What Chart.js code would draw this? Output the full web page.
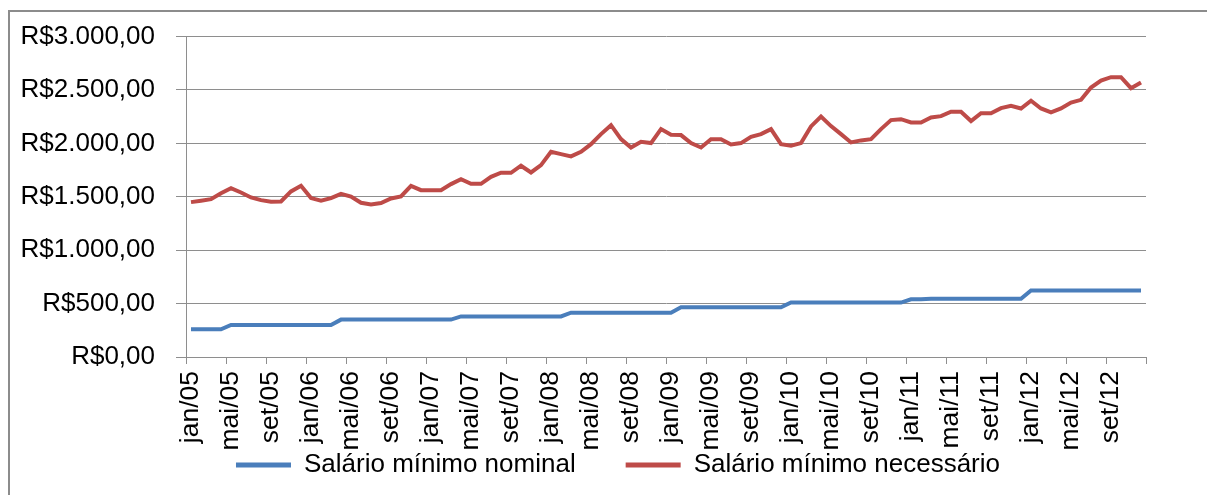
<!DOCTYPE html>
<html>
<head>
<meta charset="utf-8">
<script src="https://cdn.jsdelivr.net/npm/chart.js@4"></script>
<style>
  html, body { margin: 0; padding: 0; background: #ffffff; }
  #wrap { position: relative; width: 1207px; height: 495px; }
  #frame { position: absolute; left: 8px; top: 10px; width: 1300px; height: 600px;
           border-left: 2px solid #8c8c8c; border-top: 2px solid #8c8c8c; }
  canvas { position: absolute; left: 0; top: 0; }
</style>
</head>
<body>
<div id="wrap">
  <div id="frame"></div>
  <canvas id="c" width="1207" height="495"></canvas>
</div>
<script>
const months = ['jan','fev','mar','abr','mai','jun','jul','ago','set','out','nov','dez'];
const years = ['05','06','07','08','09','10','11','12'];
const categories = [];
years.forEach(y => months.forEach(m => categories.push(m + '/' + y)));

const seriesNames = ['Salário mínimo nominal', 'Salário mínimo necessário'];

const nominal = [
  260,260,260,260,300,300,300,300,300,300,300,300,
  300,300,300,350,350,350,350,350,350,350,350,350,
  350,350,350,380,380,380,380,380,380,380,380,380,
  380,380,415,415,415,415,415,415,415,415,415,415,
  415,465,465,465,465,465,465,465,465,465,465,465,
  510,510,510,510,510,510,510,510,510,510,510,510,
  540,540,545,545,545,545,545,545,545,545,545,545,
  622,622,622,622,622,622,622,622,622,622,622,622
];

const necessario = [
  1450,1463,1478,1534,1581,1540,1494,1469,1453,1456,1550,1603,
  1488,1463,1488,1528,1503,1444,1428,1441,1484,1503,1603,1562,
  1562,1562,1619,1665,1622,1622,1687,1725,1725,1791,1728,1797,
  1921,1900,1878,1921,1993,2087,2171,2040,1962,2015,2003,2134,
  2081,2078,2003,1962,2040,2040,1990,2003,2062,2087,2134,1993,
  1978,2003,2159,2252,2162,2087,2009,2028,2040,2134,2218,2227,
  2196,2196,2243,2255,2296,2296,2209,2283,2283,2330,2352,2327,
  2399,2327,2290,2327,2383,2408,2523,2589,2620,2620,2517,2570
];

const yTicks = [0, 500, 1000, 1500, 2000, 2500, 3000];

const colors = ['#4a7ebb', '#be4b48'];
const axisGray = '#8e8e8e';
const FONT = 'Liberation Sans, Arial, sans-serif';

function fmtBRL(v) {
  const s = Math.round(v).toString().replace(/\B(?=(\d{3})+(?!\d))/g, '.');
  return 'R$' + s + ',00';
}

Chart.defaults.font.family = FONT;
Chart.defaults.color = '#000000';

new Chart(document.getElementById('c'), {
  type: 'line',
  data: {
    labels: categories,
    datasets: [
      { label: seriesNames[0], data: nominal, borderColor: colors[0], backgroundColor: colors[0],
        borderWidth: 4, pointRadius: 0, tension: 0, yAxisID: 'y' },
      { label: seriesNames[1], data: necessario, borderColor: colors[1], backgroundColor: colors[1],
        borderWidth: 4, pointRadius: 0, tension: 0, yAxisID: 'y' }
    ]
  },
  options: {
    responsive: false,
    animation: false,
    layout: { padding: { left: 29, right: 0, top: 33, bottom: 7 } },
    plugins: {
      tooltip: { enabled: false },
      legend: {
        position: 'bottom',
        labels: {
          boxWidth: 55,
          boxHeight: 5,
          padding: 50,
          font: { size: 26, family: FONT },
          color: '#000000',
          generateLabels(chart) {
            return chart.data.datasets.map((d, i) => ({
              text: d.label, fillStyle: d.borderColor, strokeStyle: d.borderColor,
              lineWidth: 0, hidden: false, datasetIndex: i, fontColor: '#000000'
            }));
          }
        }
      }
    },
    scales: {
      x: {
        type: 'category',
        offset: true,
        afterFit(s) {
          s.height = 45;
          // let the rotated labels run below the (short) axis box, over the legend margin
          s._computeLabelArea = () => undefined;
        },
        grid: {
          offset: true,
          drawOnChartArea: false,
          drawTicks: true,
          tickLength: 7,
          tickColor: ctx => (ctx.index === undefined || ctx.index % 4 === 0) ? axisGray : 'rgba(0,0,0,0)',
          color: axisGray
        },
        border: { display: true, color: axisGray, width: 1 },
        ticks: {
          autoSkip: false,
          minRotation: 90,
          maxRotation: 90,
          padding: 7,
          font: { size: 26.5, family: FONT },
          color: '#000000',
          callback: function (v, i) { return i % 4 === 0 ? this.getLabelForValue(v) : ''; }
        }
      },
      y: {
        type: 'linear',
        position: 'left',
        min: yTicks[0],
        max: yTicks[yTicks.length - 1],
        afterFit(s) {
          s.width = 157;
          s._computeLabelArea = () => undefined;
        },
        afterBuildTicks(s) { s.ticks = yTicks.map(v => ({ value: v })); },
        grid: { color: axisGray, lineWidth: 1, drawTicks: true, tickLength: 10, tickColor: axisGray },
        border: { display: true, color: axisGray, width: 1 },
        ticks: {
          padding: 21,
          font: { size: 26, family: FONT },
          color: '#000000',
          callback: v => fmtBRL(v)
        }
      },
      yR: {
        type: 'linear',
        position: 'right',
        display: true,
        afterFit(s) { s.width = 61; },
        grid: { display: false, drawOnChartArea: false },
        border: { display: false },
        ticks: { display: false }
      }
    }
  }
});
</script>
</body>
</html>
